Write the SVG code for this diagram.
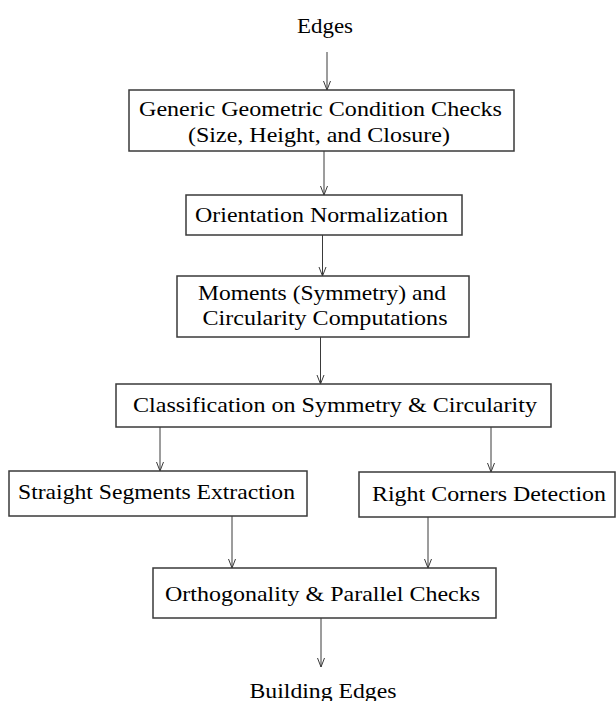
<svg xmlns="http://www.w3.org/2000/svg" width="616" height="701" viewBox="0 0 616 701">
  <style>
    .box { fill: #ffffff; stroke: #3a3a3a; stroke-width: 1.5; }
    .lbl { font-family: "Liberation Serif", "Times New Roman", serif; font-size: 22px; fill: #000000; }
    .conn { stroke: #3a3a3a; stroke-width: 1; fill: none; }
  </style>
  <defs>
    <marker id="arrow" viewBox="-10 -5 11 10" refX="0" refY="0" markerWidth="11" markerHeight="10" markerUnits="userSpaceOnUse" orient="auto">
      <path d="M-9,-3.5 L0,0 L-9,3.5" fill="none" stroke="#3a3a3a" stroke-width="1"/>
    </marker>
  </defs>
  <rect x="0" y="0" width="616" height="701" fill="#ffffff"/>

  <g id="connectors">
    <line class="conn" x1="327" y1="52" x2="327" y2="90" marker-end="url(#arrow)"/>
    <line class="conn" x1="324" y1="151" x2="324" y2="195" marker-end="url(#arrow)"/>
    <line class="conn" x1="322.5" y1="235" x2="322.5" y2="276" marker-end="url(#arrow)"/>
    <line class="conn" x1="320.5" y1="337" x2="320.5" y2="384" marker-end="url(#arrow)"/>
    <line class="conn" x1="160" y1="427" x2="160" y2="471" marker-end="url(#arrow)"/>
    <line class="conn" x1="491" y1="427" x2="491" y2="472" marker-end="url(#arrow)"/>
    <line class="conn" x1="232" y1="516" x2="232" y2="568" marker-end="url(#arrow)"/>
    <line class="conn" x1="428" y1="517" x2="428" y2="568" marker-end="url(#arrow)"/>
    <line class="conn" x1="321" y1="618" x2="321" y2="667" marker-end="url(#arrow)"/>
  </g>

  <g id="edges-in">
    <text class="lbl" x="297" y="33" textLength="56" lengthAdjust="spacingAndGlyphs">Edges</text>
  </g>

  <g id="generic-checks">
    <rect class="box" x="129" y="90" width="385" height="61"/>
    <text class="lbl" x="139" y="116" textLength="363" lengthAdjust="spacingAndGlyphs">Generic Geometric Condition Checks</text>
    <text class="lbl" x="188" y="142" textLength="262" lengthAdjust="spacingAndGlyphs">(Size, Height, and Closure)</text>
  </g>

  <g id="orientation">
    <rect class="box" x="186" y="195" width="276" height="40"/>
    <text class="lbl" x="195" y="222" textLength="253" lengthAdjust="spacingAndGlyphs">Orientation Normalization</text>
  </g>

  <g id="moments">
    <rect class="box" x="177" y="276" width="292" height="61"/>
    <text class="lbl" x="198" y="300" textLength="248" lengthAdjust="spacingAndGlyphs">Moments (Symmetry) and</text>
    <text class="lbl" x="202.5" y="325" textLength="245" lengthAdjust="spacingAndGlyphs">Circularity Computations</text>
  </g>

  <g id="classification">
    <rect class="box" x="116" y="384" width="435" height="43"/>
    <text class="lbl" x="133" y="412" textLength="404" lengthAdjust="spacingAndGlyphs">Classification on Symmetry &amp; Circularity</text>
  </g>

  <g id="straight-segments">
    <rect class="box" x="9" y="471" width="298" height="45"/>
    <text class="lbl" x="18" y="499" textLength="277" lengthAdjust="spacingAndGlyphs">Straight Segments Extraction</text>
  </g>

  <g id="right-corners">
    <rect class="box" x="359" y="472" width="256" height="45"/>
    <text class="lbl" x="372" y="501" textLength="234" lengthAdjust="spacingAndGlyphs">Right Corners Detection</text>
  </g>

  <g id="orthogonality">
    <rect class="box" x="153" y="568" width="343" height="50"/>
    <text class="lbl" x="165" y="601" textLength="315" lengthAdjust="spacingAndGlyphs">Orthogonality &amp; Parallel Checks</text>
  </g>

  <g id="building-edges">
    <text class="lbl" x="249.5" y="698" textLength="147" lengthAdjust="spacingAndGlyphs">Building Edges</text>
  </g>
</svg>
